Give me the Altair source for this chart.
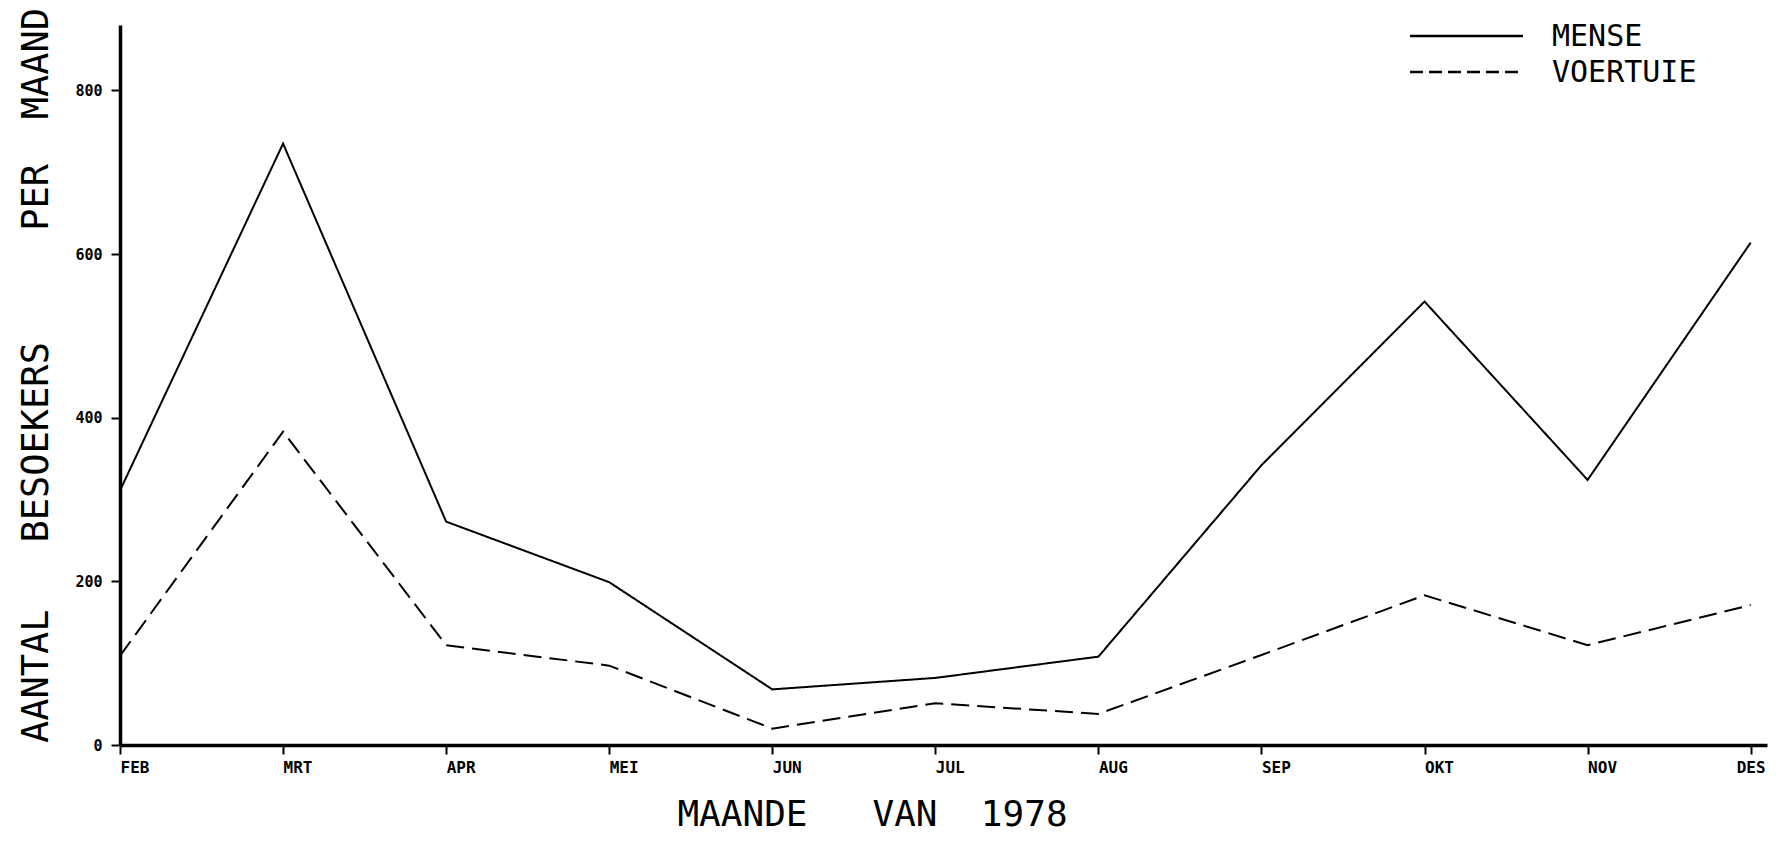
import altair as alt
import pandas as pd

months = ["FEB", "MRT", "APR", "MEI", "JUN", "JUL", "AUG", "SEP", "OKT", "NOV", "DES"]
mense = [311, 735, 273, 199, 68, 82, 108, 342, 542, 324, 614]
voertuie = [109, 383, 122, 97, 20, 51, 38, 110, 183, 122, 171]
series_names = ["MENSE", "VOERTUIE"]
y_ticks = [0, 200, 400, 600, 800]

rows = []
for i, m in enumerate(months):
    rows.append({"idx": i, "maand": m, "reeks": series_names[0], "waarde": mense[i]})
    rows.append({"idx": i, "maand": m, "reeks": series_names[1], "waarde": voertuie[i]})
df = pd.DataFrame(rows)

FONT = "DejaVu Sans Mono"
W, H = 1647, 720
NB = "\u00a0"

y_title = "AANTAL" + NB * 3 + "BESOEKERS" + NB * 5 + "PER" + NB * 2 + "MAAND"
x_title = "MAANDE" + NB * 3 + "VAN" + NB * 2 + "1978"

label_expr = "[" + ",".join("'%s'" % m for m in months) + "][datum.value]"
last_idx = len(months) - 1

lines = alt.Chart(df).mark_line(color="black", strokeWidth=2).encode(
    x=alt.X(
        "idx:Q",
        scale=alt.Scale(domain=[0, 10.1], nice=False, zero=False),
        axis=alt.Axis(
            values=list(range(len(months))),
            labelExpr=label_expr,
            title=x_title,
            titleFont=FONT,
            titleFontSize=36,
            titleFontWeight="normal",
            titleX=752,
            titleY=69,
            titleAlign="center",
            titleBaseline="middle",
            labelFont=FONT,
            labelFontSize=16,
            labelFontWeight="bold",
            labelAlign={"condition": {"test": "datum.value == %d" % last_idx, "value": "center"}, "value": "left"},
            labelFlush=False,
            labelPadding=5,
            tickSize=9,
            tickWidth=2,
            domainWidth=3.5,
            domainColor="black",
            tickColor="black",
            labelColor="black",
            titleColor="black",
            grid=False,
        ),
    ),
    y=alt.Y(
        "waarde:Q",
        scale=alt.Scale(domain=[0, 880], nice=False),
        axis=alt.Axis(
            values=y_ticks,
            title=y_title,
            titleFont=FONT,
            titleFontSize=37,
            titleFontWeight="normal",
            titleAngle=-90,
            titleX=-84,
            titleY=350,
            titleAlign="center",
            titleBaseline="middle",
            labelFont=FONT,
            labelFontSize=15,
            labelFontWeight="bold",
            labelPadding=9,
            tickSize=9,
            tickWidth=2,
            domainWidth=3.5,
            domainColor="black",
            tickColor="black",
            labelColor="black",
            titleColor="black",
            grid=False,
        ),
    ),
    strokeDash=alt.StrokeDash(
        "reeks:N",
        scale=alt.Scale(domain=series_names, range=[[1, 0], [18, 8]]),
        legend=None,
    ),
    detail="reeks:N",
)

dummy = pd.DataFrame({"a": [0]})
legend_layers = []
legend_y = [11, 47]
legend_dash = [[1, 0], [13, 6]]
for name, ly, dash in zip(series_names, legend_y, legend_dash):
    legend_layers.append(
        alt.Chart(dummy).mark_rule(color="black", strokeWidth=2.5, strokeDash=dash).encode(
            x=alt.value(1290), x2=alt.value(1403), y=alt.value(ly)
        )
    )
    legend_layers.append(
        alt.Chart(dummy).mark_text(
            font=FONT, fontSize=30, align="left", baseline="middle", color="black"
        ).encode(x=alt.value(1432), y=alt.value(ly + 1), text=alt.value(name))
    )

chart = alt.layer(lines, *legend_layers).properties(
    width=W,
    height=H,
    autosize=alt.AutoSizeParams(type="none"),
    padding={"left": 112, "top": 17, "right": 5, "bottom": 90},
    background="white",
).configure_view(stroke=None)

chart.save("out.html", embed_options={"renderer": "svg", "actions": False})
